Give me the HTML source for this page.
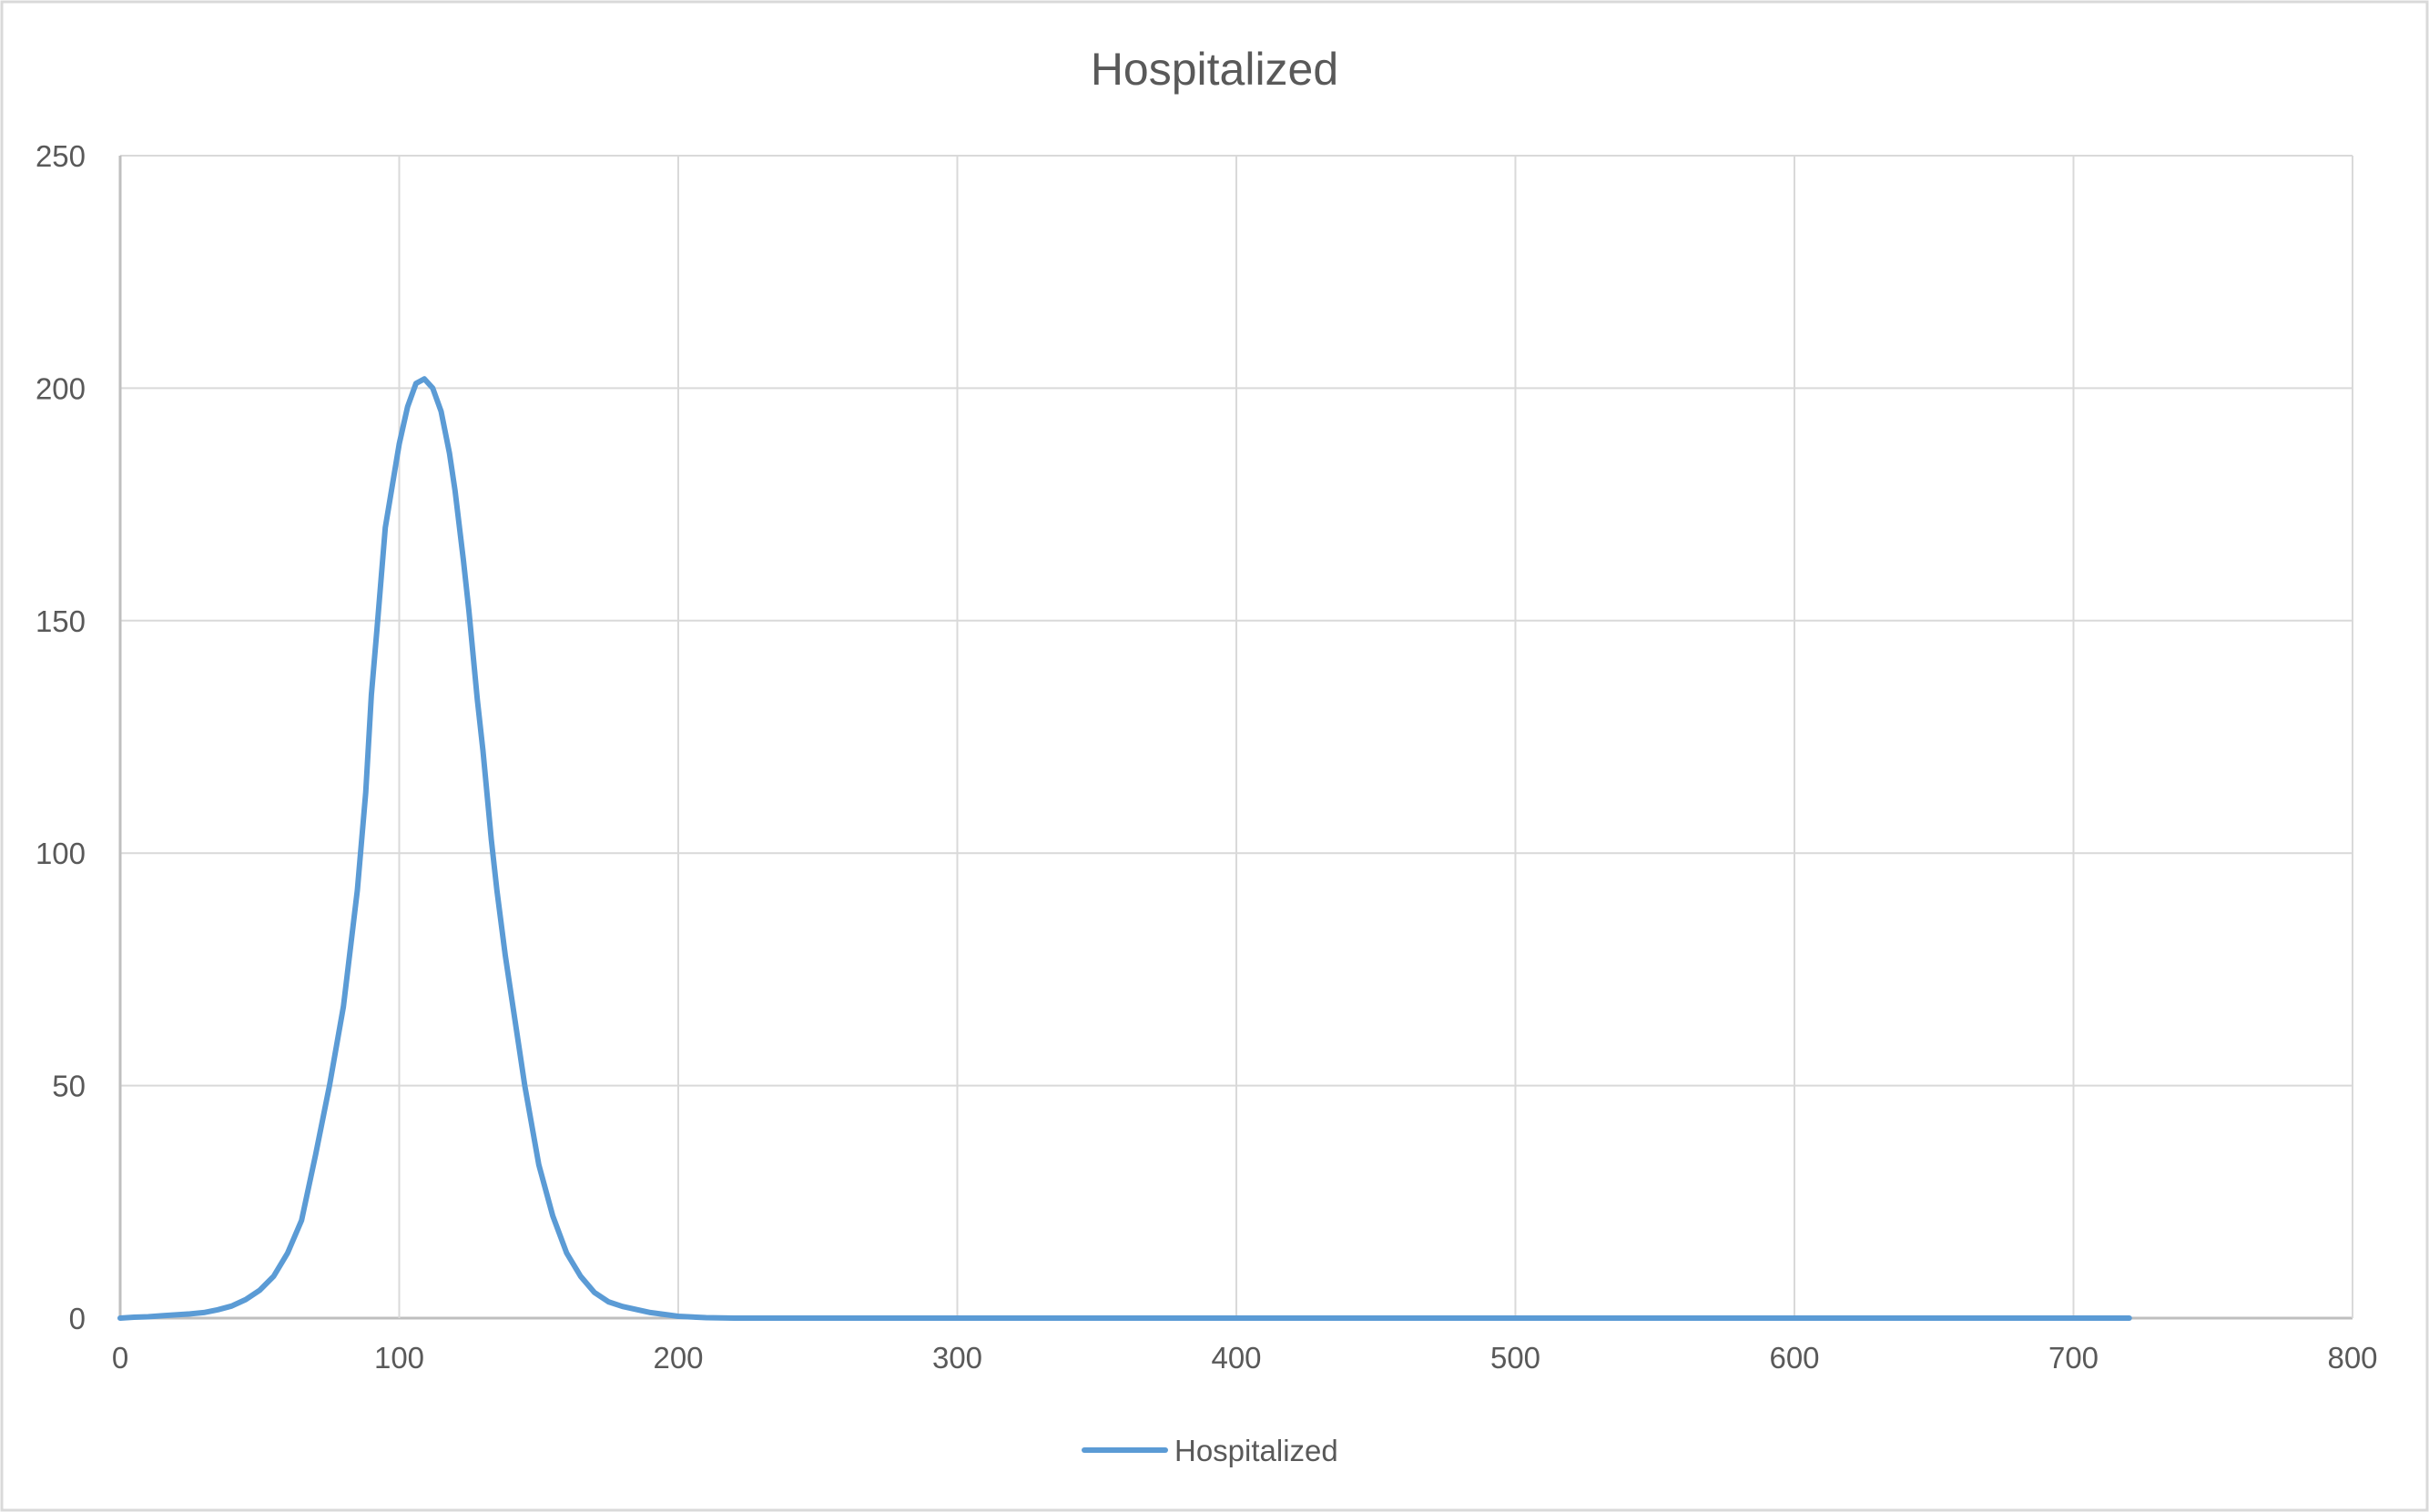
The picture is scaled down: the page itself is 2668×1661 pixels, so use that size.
<!DOCTYPE html>
<html><head><meta charset="utf-8"><style>
body{margin:0;background:#fff;}
svg{display:block;font-family:"Liberation Sans",sans-serif;}
</style></head><body>
<svg id="chart" width="2668" height="1661" viewBox="0 0 2668 1661" xmlns="http://www.w3.org/2000/svg">
<rect x="2" y="2" width="2664" height="1657" fill="#fff" stroke="#d9d9d9" stroke-width="3"/>
<text x="1334" y="93" font-size="50" fill="#595959" text-anchor="middle">Hospitalized</text>
<g id="grid"></g><g id="axes"></g><g id="series"></g>
<g>
<line x1="1191" y1="1593" x2="1280" y2="1593" stroke="#5b9bd5" stroke-width="6" stroke-linecap="round"/>
<text x="1290" y="1605" font-size="33" fill="#595959">Hospitalized</text>
</g>
</svg>
<script>
const xTicks=[0,100,200,300,400,500,600,700,800];
const yTicks=[0,50,100,150,200,250];
const days=[0,5,10,15,20,25,30,35,40,45,50,55,60,65,70,75,80,85,88,90,92,95,100,103,106,109,112,115,118,120,123,125,128,130,133,135,138,140,143,145,150,155,160,165,170,175,180,190,200,210,220,720];
const hospitalized=[0,0.2,0.3,0.5,0.7,0.9,1.2,1.8,2.6,4,6,9,14,21,35,50,67,92,113,134,148,170,188,196,201,202,200,195,186,178,163,152,133,122,103,92,78,70,58,50,33,22,14,9,5.5,3.5,2.5,1.2,0.4,0.1,0,0];
const L=132,R=2584,T=171,B=1448;
const sx=v=>L+(v-0)/(800-0)*(R-L);
const sy=v=>B-(v/250)*(B-T);
const NS="http://www.w3.org/2000/svg";
const grid=document.getElementById('grid'),axes=document.getElementById('axes'),ser=document.getElementById('series');
function mk(tag,attrs,parent){const e=document.createElementNS(NS,tag);for(const k in attrs)e.setAttribute(k,attrs[k]);parent.appendChild(e);return e;}
yTicks.forEach(v=>{
  const l=mk('line',{x1:L,x2:R,y1:sy(v),y2:sy(v),stroke:v===0?'#bfbfbf':'#d9d9d9','stroke-width':v===0?3:2},grid);
  
  
  const t=mk('text',{x:L-38,y:sy(v)+12,'font-size':33,fill:'#595959','text-anchor':'end'},axes);
  t.textContent=v;
  
  
});
xTicks.forEach(v=>{
  const l=mk('line',{x1:sx(v),x2:sx(v),y1:T,y2:B,stroke:v===0?'#bfbfbf':'#d9d9d9','stroke-width':v===0?3:2},grid);
  
  
  const t=mk('text',{x:sx(v),y:B+55,'font-size':33,fill:'#595959','text-anchor':'middle'},axes);
  t.textContent=v;
  
  
});
let d='';
days.forEach((x,i)=>{d+=(i?'L':'M')+sx(x).toFixed(1)+' '+sy(hospitalized[i]).toFixed(1);});
const p=mk('path',{d:d,fill:'none',stroke:'#5b9bd5','stroke-width':6,'stroke-linejoin':'round','stroke-linecap':'round'},ser);


</script>
</body></html>
